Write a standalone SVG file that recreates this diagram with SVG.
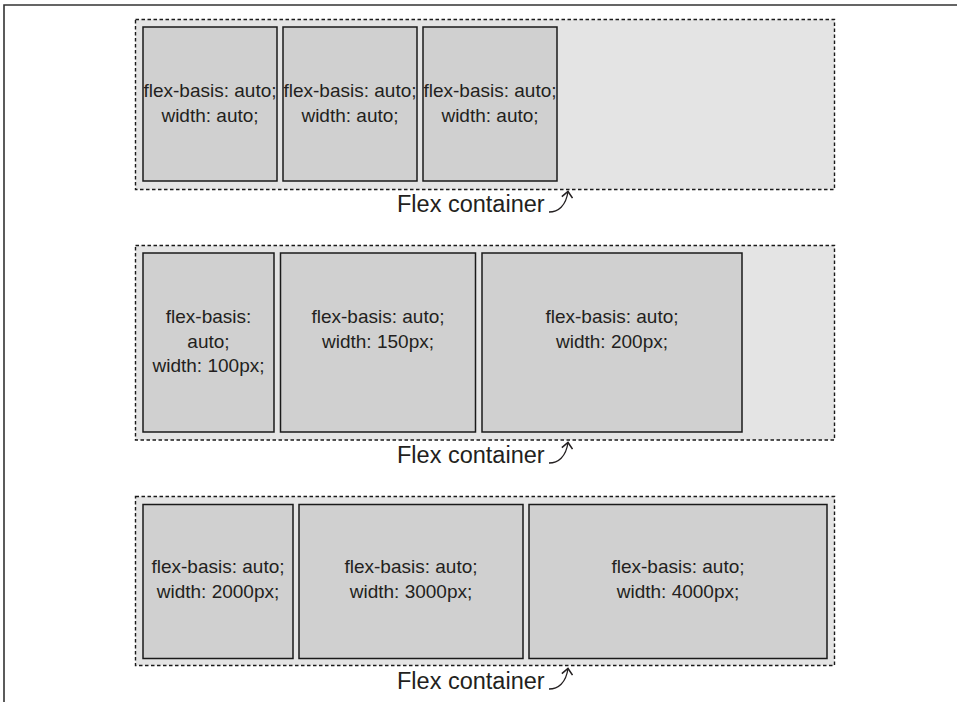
<svg xmlns="http://www.w3.org/2000/svg" width="957" height="702" viewBox="0 0 957 702">
  <style>
    .frame { fill: none; stroke: #333333; stroke-width: 1.6; }
    .container { fill: #e4e4e4; stroke: #1a1a1a; stroke-width: 1.4; stroke-dasharray: 3.5 2.5; }
    .item { fill: #d0d0d0; stroke: #1a1a1a; stroke-width: 1.5; }
    .t { font-family: "Liberation Sans", Arial, sans-serif; font-size: 19px; fill: #231f20; text-anchor: middle; }
    .lbl { font-family: "Liberation Sans", Arial, sans-serif; font-size: 23.5px; fill: #231f20; }
    .arrow { fill: none; stroke: #231f20; stroke-width: 1.3; marker-end: url(#head); }
  </style>
  <defs>
    <marker id="head" markerUnits="userSpaceOnUse" markerWidth="12" markerHeight="12" viewBox="0 0 10 10" refX="6.5" refY="5" orient="auto">
      <path d="M1.5,0.5 L6.5,5 L1.5,9.5" fill="none" stroke="#231f20" stroke-width="1.3"/>
    </marker>
  </defs>
  <rect width="957" height="702" fill="#ffffff"/>
  <path class="frame" d="M4,702 V5 H957"/>

  <!-- Row 1 -->
  <g id="container1">
    <rect class="container" x="135.5" y="19.5" width="699" height="170"/>
    <text class="lbl" x="397" y="212">Flex container</text>
  </g>
  <g id="item1a">
    <rect class="item" x="143" y="27" width="134" height="154"/>
    <text class="t" x="210" y="97">flex-basis: auto;</text>
    <text class="t" x="210" y="122">width: auto;</text>
  </g>
  <g id="item1b">
    <rect class="item" x="283" y="27" width="134" height="154"/>
    <text class="t" x="350" y="97">flex-basis: auto;</text>
    <text class="t" x="350" y="122">width: auto;</text>
  </g>
  <g id="item1c">
    <rect class="item" x="423" y="27" width="134" height="154"/>
    <text class="t" x="490" y="97">flex-basis: auto;</text>
    <text class="t" x="490" y="122">width: auto;</text>
  </g>

  <!-- Row 2 -->
  <g id="container2">
    <rect class="container" x="135.5" y="245.5" width="699" height="194.5"/>
    <text class="lbl" x="397" y="463">Flex container</text>
  </g>
  <g id="item2a">
    <rect class="item" x="143" y="253" width="131" height="179"/>
    <text class="t" x="208.5" y="323">flex-basis:</text>
    <text class="t" x="208.5" y="348">auto;</text>
    <text class="t" x="208.5" y="372">width: 100px;</text>
  </g>
  <g id="item2b">
    <rect class="item" x="280.5" y="253" width="195" height="179"/>
    <text class="t" x="378" y="323">flex-basis: auto;</text>
    <text class="t" x="378" y="348">width: 150px;</text>
  </g>
  <g id="item2c">
    <rect class="item" x="482" y="253" width="260" height="179"/>
    <text class="t" x="612" y="323">flex-basis: auto;</text>
    <text class="t" x="612" y="348">width: 200px;</text>
  </g>

  <!-- Row 3 -->
  <g id="container3">
    <rect class="container" x="135.5" y="496.5" width="699" height="169"/>
    <text class="lbl" x="397" y="689">Flex container</text>
  </g>
  <g id="item3a">
    <rect class="item" x="143" y="504.5" width="150" height="154"/>
    <text class="t" x="218" y="573">flex-basis: auto;</text>
    <text class="t" x="218" y="598">width: 2000px;</text>
  </g>
  <g id="item3b">
    <rect class="item" x="299" y="504.5" width="224" height="154"/>
    <text class="t" x="411" y="573">flex-basis: auto;</text>
    <text class="t" x="411" y="598">width: 3000px;</text>
  </g>
  <g id="item3c">
    <rect class="item" x="529" y="504.5" width="298" height="154"/>
    <text class="t" x="678" y="573">flex-basis: auto;</text>
    <text class="t" x="678" y="598">width: 4000px;</text>
  </g>

  <g id="connectors">
    <path class="arrow" d="M549,212 C558,212 566,206 568,191.5"/>
    <path class="arrow" d="M549,463 C558,463 566,457 568,442.5"/>
    <path class="arrow" d="M549,689 C558,689 566,683 568,668.5"/>
  </g>
</svg>
